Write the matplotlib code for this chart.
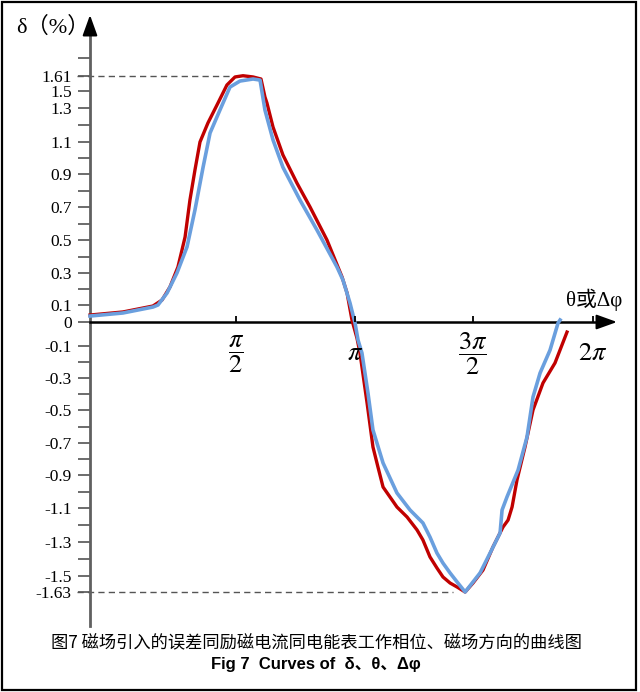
import numpy as np
import matplotlib
matplotlib.use("Agg")
import matplotlib.pyplot as plt
from matplotlib.patches import Rectangle

plt.rcParams['font.family'] = ['Liberation Serif', 'Noto Sans CJK SC', 'DejaVu Sans']
plt.rcParams['mathtext.fontset'] = 'stix'

# ---------------- data (x in degrees of phase, y in delta %) ----------------
red_x = [0, 20.3, 38.8, 44.4, 49.3, 54.2, 58.6, 61.6, 64.7, 67.8, 72.7, 78.9, 84.4,
         89.4, 95.3, 102.9, 108.9, 111.9, 113.4, 118.0, 125.5, 136.1, 146.0, 158.8,
         170.2, 174.0, 177.7, 181.5, 183.8, 189.2, 193.7, 197.5, 201.4, 212.0, 219.7,
         227.3, 231.8, 237.2, 242.5, 247.1, 252.5, 257.8, 264.0, 270.0, 277.5, 285.0,
         292.5, 296.3, 299.3, 303.0, 309.0, 315.0, 322.5, 331.5, 340.5]
red_y = [0.041, 0.059, 0.094, 0.131, 0.213, 0.336, 0.518, 0.742, 0.925, 1.100, 1.212,
         1.359, 1.544, 1.603, 1.612, 1.603, 1.588, 1.429, 1.359, 1.188, 1.019, 0.845,
         0.700, 0.500, 0.275, 0.175, 0.012, -0.067, -0.144, -0.456, -0.725, -0.850,
         -0.973, -1.094, -1.153, -1.229, -1.288, -1.388, -1.453, -1.508, -1.557,
         -1.589, -1.630, -1.557, -1.465, -1.329, -1.212, -1.171, -1.094, -0.930,
         -0.725, -0.500, -0.331, -0.206, -0.042]

blue_x = [0, 20.3, 38.8, 41.9, 47.5, 53.6, 59.8, 64.7, 69.7, 74.0, 80.1, 86.3, 93.0,
          102.9, 108.2, 111.9, 118.0, 125.5, 138.4, 151.2, 166.4, 170.9, 176.2, 180.0,
          182.3, 185.3, 189.9, 193.7, 201.4, 212.0, 222.0, 231.8, 237.2, 242.5, 247.1,
          252.5, 257.9, 264.0, 275.3, 282.8, 290.3, 291.8, 295.5, 303.8, 310.5, 315.0,
          320.3, 327.8, 333.8, 335.3]
blue_y = [0.035, 0.053, 0.088, 0.100, 0.175, 0.300, 0.458, 0.682, 0.942, 1.153, 1.288,
          1.529, 1.573, 1.588, 1.580, 1.288, 1.112, 0.942, 0.742, 0.561, 0.336, 0.256,
          0.113, -0.004, -0.075, -0.144, -0.394, -0.621, -0.825, -1.009, -1.112,
          -1.188, -1.271, -1.365, -1.424, -1.482, -1.549, -1.630, -1.482, -1.365,
          -1.247, -1.112, -1.033, -0.869, -0.664, -0.419, -0.269, -0.125, -0.004, 0.012]

peak_value = 1.61
trough_value = -1.63

y_tick_labels = ['1.61', '1.5', '1.3', '1.1', '0.9', '0.7', '0.5', '0.3', '0.1', '0',
                 '-0.1', '-0.3', '-0.5', '-0.7', '-0.9', '-1.1', '-1.3', '-1.5', '-1.63']
y_minor = [1.74, 1.2, 1.0, 0.8, 0.6, 0.4, 0.2, -0.2, -0.4, -0.6, -0.8, -1.0, -1.2, -1.4]
x_tick_vals = [90, 180, 270, 360]
x_tick_labels = [r'$\dfrac{\pi}{2}$', r'$\pi$', r'$\dfrac{3\pi}{2}$', r'$2\pi$']

# ---------------- axis scales (the original axes are drawn non-uniformly) ----
X_KNOTS = [-400, 0, 90, 180, 270, 360, 600]
X_POS = [-400 * 146 / 90, 0, 146, 265, 383, 503, 503 + 240 * 120 / 90]
Y_KNOTS = [-3.0, -1.63, -1.5, -1.3, -1.1, -0.9, -0.7, -0.5, -0.3, -0.1, 0, 0.1, 0.3,
           0.5, 0.7, 0.9, 1.1, 1.3, 1.5, 1.61, 3.0]
Y_POS = [-438.6, -270, -254, -220, -186, -153, -121, -88, -56, -24, 0, 17, 49, 82, 115,
         148, 180, 214, 231, 246, 435.5]

def fx(v):
    return np.interp(v, X_KNOTS, X_POS)

def ix(p):
    return np.interp(p, X_POS, X_KNOTS)

def fy(v):
    return np.interp(v, Y_KNOTS, Y_POS)

def iy(p):
    return np.interp(p, Y_POS, Y_KNOTS)

W, H = 640, 692
fig = plt.figure(figsize=(W / 100, H / 100), dpi=100)
ax = fig.add_axes([0, 0, 1, 1])
ax.set_xscale('function', functions=(fx, ix))
ax.set_yscale('function', functions=(fy, iy))
ox, oy = 90, 322  # origin location in the picture
ax.set_xlim(ix(-ox), ix(W - ox))
ax.set_ylim(iy(oy - H), iy(oy))
ax.patch.set_alpha(0)

# curves
ax.plot(red_x, red_y, color='#C00000', lw=2.4, solid_joinstyle='round', zorder=3)
ax.plot(blue_x, blue_y, color='#6A9FDE', lw=2.6, solid_joinstyle='round', zorder=4)

# dashed reference lines
ax.plot([ix(-13), ix(143)], [peak_value, peak_value], ls=(0, (4.5, 3)), color='#555555', lw=1.0, zorder=2)
ax.plot([ix(-13), ix(363)], [trough_value, trough_value], ls=(0, (4.5, 3)), color='#555555', lw=1.0, zorder=2)

# spines as axes through origin
for s in ['top', 'right']:
    ax.spines[s].set_visible(False)
ax.spines['left'].set_position(('data', 0))
ax.spines['bottom'].set_position(('data', 0))
ax.spines['left'].set_bounds(iy(oy - 626), iy(oy - 25))
ax.spines['left'].set_color('#606060')
ax.spines['left'].set_linewidth(2.0)
ax.spines['bottom'].set_bounds(0, ix(605 - ox))
ax.spines['bottom'].set_color('black')
ax.spines['bottom'].set_linewidth(1.8)
ax.xaxis.set_zorder(5)

# arrowheads
ax.annotate('', xy=(0, iy(oy - 15)), xytext=(0, iy(oy - 30)),
            arrowprops=dict(arrowstyle='-|>,head_length=1.25,head_width=0.45',
                            mutation_scale=10, color='black', lw=1.5,
                            shrinkA=0, shrinkB=0), zorder=5)
ax.annotate('', xy=(ix(617 - ox), 0), xytext=(ix(602 - ox), 0),
            arrowprops=dict(arrowstyle='-|>,head_length=1.25,head_width=0.45',
                            mutation_scale=10, color='black', lw=1.5,
                            shrinkA=0, shrinkB=0), zorder=5)

# y ticks
y_vals = [float(s) for s in y_tick_labels]
ax.set_yticks(y_vals)
ax.set_yticklabels(y_tick_labels)
ax.set_yticks(y_minor, minor=True)
ax.tick_params(axis='y', which='both', direction='out', length=8.6, width=1.3,
               color='#606060', labelsize=12.5, pad=4.5)

# x ticks
ax.set_xticks(x_tick_vals)
ax.set_xticklabels(x_tick_labels)
ax.set_xticks([], minor=True)
ax.tick_params(axis='x', which='major', direction='in', length=4.5, width=1.3,
               color='black', labelsize=19, pad=23)
for t in ax.get_xticklabels():
    t.set_va('center')

# axis titles
fig.text(16 / W, 1 - 27 / H, 'δ（%）', ha='left', va='center', fontsize=16)
fig.text(594 / W, 1 - 300 / H, 'θ或Δφ', ha='center', va='center', fontsize=15)

# captions
fig.text(316 / W, 1 - 643 / H, '图7 磁场引入的误差同励磁电流同电能表工作相位、磁场方向的曲线图',
         ha='center', va='center', fontsize=12.4, family=['Noto Sans CJK SC', 'DejaVu Sans'])
fig.text(316 / W, 1 - 665 / H, 'Fig 7  Curves of  δ、θ、Δφ', ha='center', va='center',
         fontsize=12, fontweight='bold', family=['Liberation Sans', 'Noto Sans CJK SC'])

# frame
fig.add_artist(Rectangle((2 / W, 2 / H), 634 / W, 688 / H, transform=fig.transFigure,
                         fill=False, lw=1.6, edgecolor='black'))

fig.savefig('out.png', dpi=100)
